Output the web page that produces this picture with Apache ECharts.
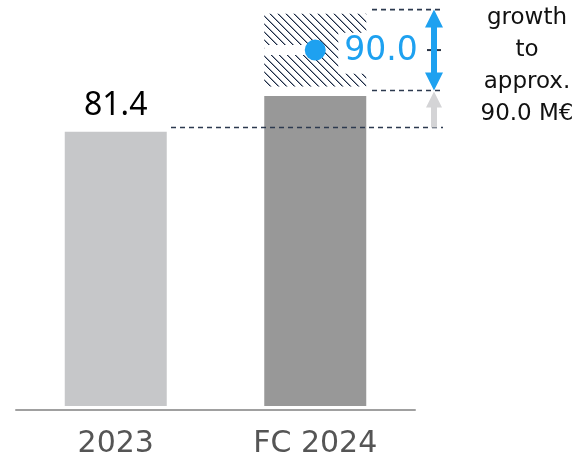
<!DOCTYPE html>
<html>
<head>
<meta charset="utf-8">
<script src="https://cdn.jsdelivr.net/npm/echarts@6/dist/echarts.min.js"></script>
<style>
  html, body { margin: 0; padding: 0; background: #fff; }
  #chart { width: 582px; height: 465px; }
</style>
</head>
<body>
<div id="chart"></div>
<script>
// Revenue in M€: reported year and forecast with expected growth band
const categories = ['2023', 'FC 2024'];
const solidValues = [81.4, 84.0];
const growthStart = [null, 84.7];
const growthTarget = [null, 90.0];

// Guide levels (axis units) for the dashed lines and arrows
const guidePrior = 81.7;
const guideLow = 84.4;
const guideHigh = 90.3;

const noteWords = ['growth', 'to', 'approx.'];
const noteUnit = 'M€';

const gapValues = categories.map((_, i) =>
  growthStart[i] == null ? null : +(growthStart[i] - solidValues[i]).toFixed(2));
const hatchValues = categories.map((_, i) =>
  growthTarget[i] == null ? null : +(growthTarget[i] - growthStart[i]).toFixed(2));
const dotValues = categories.map((c, i) =>
  growthTarget[i] == null ? null : [c, (growthStart[i] + growthTarget[i]) / 2]);

// Diagonal hatch tile
function hatchTile() {
  const c = document.createElement('canvas');
  c.width = 8; c.height = 8;
  const ctx = c.getContext('2d');
  ctx.fillStyle = '#fff';
  ctx.fillRect(0, 0, 8, 8);
  for (let i = 0; i < 8; i++) {
    ctx.fillStyle = '#1b2a45';
    ctx.fillRect(i, i, 1, 1);
    ctx.fillStyle = 'rgba(27,42,69,0.45)';
    ctx.fillRect((i + 1) % 8, i, 1, 1);
  }
  return c;
}

const chart = echarts.init(document.getElementById('chart'), null, { renderer: 'canvas' });

chart.setOption({
  animation: false,
  grid: { left: 16, right: 167, top: 0, bottom: 59, containLabel: false, outerBoundsMode: 'none' },
  xAxis: {
    type: 'category',
    data: categories,
    offset: 4,
    axisLine: { onZero: false, lineStyle: { color: '#a0a0a0', width: 2 } },
    axisTick: { show: false },
    axisLabel: { color: '#555', fontSize: 30, fontFamily: 'DejaVu Sans', margin: 19 },
    splitLine: { show: false }
  },
  yAxis: {
    type: 'value',
    min: 61.4,
    max: 91.0,
    show: false,
    splitLine: { show: false }
  },
  series: [
    {
      type: 'bar',
      stack: 'rev',
      barWidth: 102,
      data: solidValues.map((v, i) => ({
        value: v,
        itemStyle: { color: i === 0 ? '#c6c7c9' : '#989898' },
        label: { show: i === 0 }
      })),
      label: {
        position: 'top',
        distance: 10,
        color: '#000',
        fontSize: 32,
        fontFamily: 'Noto Sans',
        formatter: p => p.value.toFixed(1)
      }
    },
    {
      type: 'bar',
      stack: 'rev',
      barWidth: 102,
      data: gapValues,
      itemStyle: { color: 'rgba(0,0,0,0)' }
    },
    {
      type: 'bar',
      stack: 'rev',
      barWidth: 102,
      data: hatchValues,
      itemStyle: { color: { image: hatchTile(), repeat: 'repeat' } },
      label: {
        show: true,
        position: [74, 19],
        align: 'left',
        verticalAlign: 'top',
        color: '#1ea1f0',
        fontSize: 33,
        fontFamily: 'DejaVu Sans',
        backgroundColor: '#fff',
        padding: [2, 6, 6, 6],
        formatter: p => growthTarget[p.dataIndex].toFixed(1)
      }
    },
    {
      type: 'scatter',
      z: 20,
      symbolSize: 21,
      data: dotValues.filter(d => d),
      itemStyle: { color: '#1ea1f0', opacity: 1 }
    }
  ]
});

// Annotations placed through the chart's own scales
function drawAnnotations() {
  const y = v => chart.convertToPixel({ yAxisIndex: 0 }, v);
  const fcX = chart.convertToPixel({ xAxisIndex: 0 }, categories[1]);
  const yHigh = y(guideHigh), yLow = y(guideLow), yPrior = y(guidePrior);
  const yDot = y(dotValues[1][1]);
  const ax = 434;
  const dash = { stroke: '#2c3a4f', lineWidth: 1.6, lineDash: [5, 4] };
  const head = 18, hw = 9, sw = 3;

  chart.setOption({
    graphic: [
      // white band running from the bar edge to the marker
      { type: 'rect', z: 10, shape: { x: fcX - 51, y: yDot - 5, width: 51, height: 10 }, style: { fill: '#fff' } },
      // guide lines
      { type: 'line', z: 10, shape: { x1: 171, y1: yPrior, x2: 443, y2: yPrior }, style: dash },
      { type: 'line', z: 10, shape: { x1: 372, y1: yHigh, x2: 443, y2: yHigh }, style: dash },
      { type: 'line', z: 10, shape: { x1: 372, y1: yLow, x2: 443, y2: yLow }, style: dash },
      { type: 'line', z: 10, shape: { x1: 427, y1: (yHigh + yLow) / 2, x2: 441, y2: (yHigh + yLow) / 2 }, style: { stroke: '#2b3546', lineWidth: 2 } },
      // grey arrow from the prior level up to the forecast base
      {
        type: 'polygon', z: 11,
        shape: { points: [
          [ax, yLow + 1], [ax + 8, yLow + 17], [ax + 3, yLow + 17], [ax + 3, yPrior],
          [ax - 3, yPrior], [ax - 3, yLow + 17], [ax - 8, yLow + 17]
        ] },
        style: { fill: '#d4d4d6' }
      },
      // blue double-headed growth arrow
      {
        type: 'polygon', z: 12,
        shape: { points: [
          [ax, yHigh], [ax + hw, yHigh + head], [ax + sw, yHigh + head], [ax + sw, yLow - head],
          [ax + hw, yLow - head], [ax, yLow], [ax - hw, yLow - head], [ax - sw, yLow - head],
          [ax - sw, yHigh + head], [ax - hw, yHigh + head]
        ] },
        style: { fill: '#1ea1f0' }
      },
      // side note
      {
        type: 'text', z: 12, x: 527, y: 2,
        style: {
          text: noteWords.concat([growthTarget[1].toFixed(1) + ' ' + noteUnit]).join('\n'),
          align: 'center',
          verticalAlign: 'top',
          fontSize: 23,
          lineHeight: 32,
          fontFamily: 'DejaVu Sans',
          fill: '#111'
        }
      }
    ]
  });
}
drawAnnotations();
</script>
</body>
</html>
